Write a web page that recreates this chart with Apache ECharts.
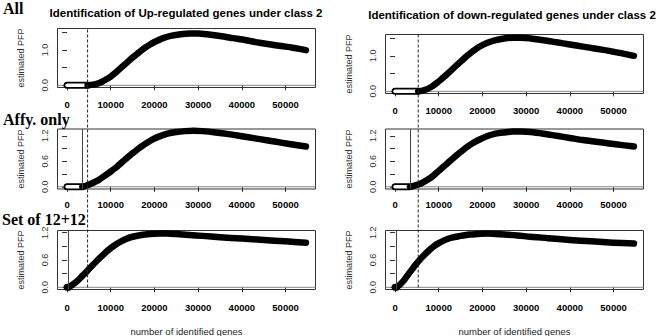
<!DOCTYPE html>
<html>
<head>
<meta charset="utf-8">
<script src="https://cdn.jsdelivr.net/npm/echarts@6/dist/echarts.min.js"></script>
<style>
html,body{margin:0;padding:0;background:#fff;}
#chart{width:660px;height:336px;}
</style>
</head>
<body>
<div id="chart"></div>
<script>
// x axis: number of identified genes
const geneTicks = [0, 10000, 20000, 30000, 40000, 50000];
const geneMin = -2187, geneMax = 56862;

// All - up
const upAllX = [4700, 6000, 7000, 8000, 9000, 10000, 11000, 12000, 13000, 14000, 15000, 16000, 17000, 18000, 19000, 20000, 22000, 24000, 26000, 28000, 30000, 32000, 35000, 38000, 41000, 44000, 47000, 50000, 52000, 54675];
const upAllY = [0, 0.02, 0.05, 0.1, 0.17, 0.25, 0.35, 0.46, 0.57, 0.68, 0.79, 0.89, 0.99, 1.08, 1.16, 1.23, 1.34, 1.41, 1.45, 1.47, 1.47, 1.45, 1.40, 1.34, 1.28, 1.21, 1.15, 1.10, 1.06, 1.0];
// All - down
const downAllX = [5300, 6500, 7500, 8500, 9500, 10500, 11500, 12500, 13500, 14500, 15500, 16500, 17500, 18500, 19500, 21000, 23000, 25000, 27000, 29000, 31000, 34000, 37000, 40000, 43000, 46000, 49000, 52000, 54675];
const downAllY = [0, 0.03, 0.07, 0.14, 0.23, 0.33, 0.44, 0.55, 0.67, 0.78, 0.89, 1.0, 1.1, 1.19, 1.27, 1.36, 1.44, 1.49, 1.51, 1.51, 1.49, 1.44, 1.38, 1.32, 1.26, 1.2, 1.14, 1.07, 1.0];
// Affy only
const upAffyX = [3500, 4500, 5500, 6500, 7500, 8500, 9500, 10500, 11500, 12500, 13500, 14500, 15500, 16500, 17500, 18500, 19500, 21000, 23000, 25000, 27000, 29000, 31000, 34000, 37000, 40000, 43000, 46000, 49000, 52000, 54675];
const upAffyY = [0, 0.03, 0.07, 0.12, 0.18, 0.25, 0.32, 0.40, 0.48, 0.57, 0.66, 0.75, 0.83, 0.91, 0.98, 1.05, 1.11, 1.18, 1.25, 1.29, 1.31, 1.32, 1.31, 1.28, 1.24, 1.19, 1.14, 1.09, 1.04, 0.99, 0.95];
const downAffyX = [3400, 4500, 5500, 6500, 7500, 8500, 9500, 10500, 11500, 12500, 13500, 14500, 15500, 16500, 17500, 18500, 19500, 21000, 23000, 25000, 27000, 29000, 31000, 34000, 37000, 40000, 43000, 46000, 49000, 52000, 54675];
const downAffyY = [0, 0.03, 0.06, 0.11, 0.17, 0.24, 0.33, 0.42, 0.51, 0.6, 0.69, 0.78, 0.86, 0.94, 1.01, 1.07, 1.12, 1.19, 1.25, 1.28, 1.3, 1.3, 1.29, 1.25, 1.2, 1.15, 1.1, 1.06, 1.02, 0.98, 0.95];
// Set of 12+12
const up12X = [300, 1000, 2000, 3000, 4000, 5000, 6000, 7000, 8000, 9000, 10000, 11000, 12000, 13000, 14000, 15000, 17000, 19000, 21000, 23000, 25000, 28000, 31000, 35000, 40000, 45000, 50000, 54675];
const up12Y = [0, 0.04, 0.11, 0.2, 0.3, 0.4, 0.5, 0.6, 0.69, 0.78, 0.86, 0.93, 0.99, 1.04, 1.08, 1.11, 1.15, 1.17, 1.18, 1.18, 1.17, 1.15, 1.13, 1.1, 1.07, 1.04, 1.01, 0.98];
const down12X = [300, 1000, 2000, 3000, 4000, 5000, 6000, 7000, 8000, 9000, 10000, 11000, 12000, 13000, 14000, 15000, 17000, 19000, 21000, 23000, 25000, 28000, 31000, 35000, 40000, 45000, 50000, 54675];
const down12Y = [0, 0.05, 0.15, 0.28, 0.41, 0.53, 0.64, 0.74, 0.83, 0.91, 0.97, 1.02, 1.06, 1.09, 1.11, 1.13, 1.16, 1.17, 1.18, 1.17, 1.16, 1.14, 1.11, 1.08, 1.04, 1.01, 0.98, 0.96];

// flat part at 0, thin cut lines, dashed cutoffs
const flatEnds = [4700, 5300, 3500, 3400, 300, 300];
const solidCuts = [null, null, 3500, 3400, 350, 300];
const upCutoff = 4700, downCutoff = 5300;

const ticksA = [0, 0.5, 1, 1.5], labelsA = [0, 1];
const ticksB = [0, 0.3, 0.6, 0.9, 1.2], labelsB = [0, 0.6, 1.2];

const panels = [
  {x: upAllX, y: upAllY, left: 57.5, top: 28.5, h: 59, ymin: -0.062, ymax: 1.614, yt: ticksA, yl: labelsA, lm: 12},
  {x: downAllX, y: downAllY, left: 385.5, top: 34.5, h: 59, ymin: -0.06, ymax: 1.6, yt: ticksA, yl: labelsA, lm: 12},
  {x: upAffyX, y: upAffyY, left: 57.5, top: 129, h: 60, ymin: -0.052, ymax: 1.36, yt: ticksB, yl: labelsB, lm: 10},
  {x: downAffyX, y: downAffyY, left: 385.5, top: 129, h: 60, ymin: -0.052, ymax: 1.36, yt: ticksB, yl: labelsB, lm: 10},
  {x: up12X, y: up12Y, left: 57.5, top: 230.5, h: 59, ymin: -0.048, ymax: 1.248, yt: ticksB, yl: labelsB, lm: 13},
  {x: down12X, y: down12Y, left: 385.5, top: 230.5, h: 59, ymin: -0.048, ymax: 1.248, yt: ticksB, yl: labelsB, lm: 13}
];

let chart = echarts.init(document.getElementById('chart'), null, {renderer: 'svg'});

let grid = [], xAxis = [], yAxis = [], series = [];

panels.forEach(function (p, i) {
  grid.push({left: p.left, top: p.top, width: 258, height: p.h, show: true,
    borderColor: '#333', borderWidth: 1, backgroundColor: 'transparent', outerBoundsMode: 'none'});
  xAxis.push({
    type: 'value', gridIndex: i, min: geneMin, max: geneMax,
    axisLine: {show: false}, splitLine: {show: false},
    axisTick: {show: true, length: 5, customValues: geneTicks, lineStyle: {color: '#333'}},
    axisLabel: {customValues: geneTicks, fontSize: 9.5, fontWeight: 'bold', color: '#000',
      margin: p.lm, lineHeight: 10, formatter: function (v) { return String(v); }},
    name: i >= 4 ? 'number of identified genes' : '',
    nameLocation: 'middle', nameGap: 37,
    nameTextStyle: {fontSize: 9.5, color: '#222'}
  });
  yAxis.push({
    type: 'value', gridIndex: i, min: p.ymin, max: p.ymax,
    axisLine: {show: false}, splitLine: {show: false},
    axisTick: {show: true, length: 5, customValues: p.yt, lineStyle: {color: '#333'}},
    axisLabel: {customValues: p.yl, rotate: 90, fontSize: 9, color: '#333', margin: 8,
      formatter: function (v) { return v.toFixed(1); }},
    name: 'estimated PFP', nameLocation: 'middle', nameGap: 32,
    nameTextStyle: {fontSize: 9, color: '#333'}
  });

  // horizontal line at 0
  series.push({type: 'line', xAxisIndex: i, yAxisIndex: i, silent: true, showSymbol: false,
    data: [[geneMin, 0], [geneMax, 0]], lineStyle: {color: '#888', width: 1}, z: 1});
  // flat part drawn as hollow bar
  let flat = [[0, 0], [flatEnds[i], 0]];
  series.push({type: 'line', xAxisIndex: i, yAxisIndex: i, silent: true, showSymbol: false,
    data: flat, lineStyle: {color: '#000', width: 7, cap: 'round'}, z: 2});
  series.push({type: 'line', xAxisIndex: i, yAxisIndex: i, silent: true, showSymbol: false,
    data: flat, lineStyle: {color: '#fff', width: 3.5, cap: 'round'}, z: 3});
  // main curve
  let s = {type: 'line', xAxisIndex: i, yAxisIndex: i, silent: true, showSymbol: false, smooth: 0.3,
    data: p.x.map(function (g, k) { return [g, p.y[k]]; }),
    lineStyle: {color: '#000', width: 6.5, cap: 'round', join: 'round'}, z: 4};
  if (solidCuts[i] != null) {
    s.markLine = {silent: true, symbol: ['none', 'none'], label: {show: false},
      lineStyle: {color: '#444', width: 1, type: 'solid'}, data: [{xAxis: solidCuts[i]}]};
  }
  series.push(s);
});

// dashed cutoffs across the three rows
[[57.5, 28.5, 259, upCutoff], [385.5, 34.5, 253, downCutoff]].forEach(function (o, j) {
  let gi = 6 + j;
  grid.push({left: o[0], top: o[1], width: 258, height: o[2], show: false, outerBoundsMode: 'none'});
  xAxis.push({type: 'value', gridIndex: gi, min: geneMin, max: geneMax, show: false});
  yAxis.push({type: 'value', gridIndex: gi, min: 0, max: 1, show: false});
  series.push({type: 'line', xAxisIndex: gi, yAxisIndex: gi, silent: true, showSymbol: false,
    data: [[o[3], 0], [o[3], 1]], lineStyle: {color: '#222', width: 1, type: [3, 2]}, z: 5});
});

let option = {
  backgroundColor: '#fff',
  animation: false,
  textStyle: {fontFamily: 'Liberation Sans, Arial, sans-serif'},
  grid: grid, xAxis: xAxis, yAxis: yAxis, series: series,
  graphic: [
    {type: 'text', left: 3, top: 0, style: {text: 'All', font: 'bold 16px "Liberation Serif"', fill: '#000'}},
    {type: 'text', left: 3, top: 111, style: {text: 'Affy. only', font: 'bold 16px "Liberation Serif"', fill: '#000', lineHeight: 15}},
    {type: 'text', left: 2, top: 211, style: {text: 'Set of 12+12', font: 'bold 16px "Liberation Serif"', fill: '#000', lineHeight: 15}},
    {type: 'text', x: 186, y: 13, style: {text: 'Identification of Up-regulated genes under class 2',
      font: 'bold 11.5px "Liberation Sans"', fill: '#000', align: 'center', verticalAlign: 'middle'}},
    {type: 'text', x: 512, y: 15, style: {text: 'Identification of down-regulated genes under class 2',
      font: 'bold 11.5px "Liberation Sans"', fill: '#000', align: 'center', verticalAlign: 'middle'}}
  ]
};

option && chart.setOption(option);
</script>
</body>
</html>
